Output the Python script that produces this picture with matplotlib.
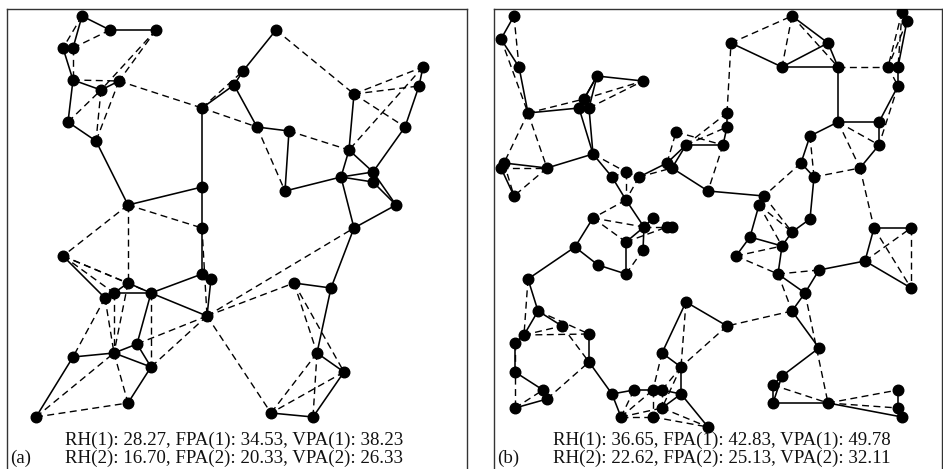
import matplotlib
matplotlib.use("Agg")
import matplotlib.pyplot as plt

# ---- panel (a): node positions (pixel units, y down) ----
a_x = [82, 110, 156, 63, 73, 73, 101, 119, 68, 96,
       202, 243, 234, 276, 202, 128, 202, 257, 289, 285,
       354, 423, 419, 405, 349, 373, 373, 341, 396, 354,
       63, 128, 114, 105, 151, 202, 211, 207, 137, 114,
       73, 151, 128, 36, 294, 331, 317, 344, 271, 313]
a_y = [16, 30, 30, 48, 48, 80, 90, 81, 122, 141,
       108, 71, 85, 30, 187, 205, 228, 127, 131, 191,
       94, 67, 86, 127, 150, 172, 182, 177, 205, 228,
       256, 283, 293, 298, 293, 274, 279, 316, 344, 353,
       357, 367, 403, 417, 283, 288, 353, 372, 413, 417]

a_solid = [(0, 1), (1, 2), (0, 4), (3, 5), (5, 6), (6, 7), (5, 8), (8, 9),
           (9, 15), (15, 14), (10, 14), (14, 16), (10, 12), (12, 11), (11, 13),
           (12, 17), (17, 18), (18, 19), (19, 27), (20, 24), (21, 22), (22, 23),
           (23, 25), (24, 27), (24, 25), (27, 25), (27, 26), (25, 28), (26, 28),
           (27, 29), (28, 29), (29, 45), (44, 45), (45, 46), (46, 47), (47, 49),
           (48, 49), (30, 33), (31, 34), (33, 32), (32, 34), (31, 32), (34, 35),
           (34, 37), (16, 35), (36, 37), (34, 38), (38, 39), (39, 40), (40, 43),
           (39, 41), (38, 41), (41, 42)]
a_dashed = [(0, 3), (4, 1), (4, 5), (5, 7), (2, 6), (2, 7), (7, 9), (6, 9),
            (8, 6), (7, 10), (10, 17), (10, 11), (13, 20), (20, 21), (20, 22),
            (20, 23), (21, 24), (18, 24), (17, 19), (15, 16), (15, 31), (15, 30),
            (30, 31), (30, 34), (30, 32), (16, 37), (33, 40), (33, 39), (32, 39),
            (31, 39), (34, 41), (37, 38), (37, 41), (37, 48), (37, 44), (37, 29),
            (43, 39), (43, 42), (39, 42), (44, 46), (44, 47), (46, 48), (46, 49),
            (47, 48)]

# ---- panel (b) ----
b_x = [514, 501, 519, 528, 597, 643, 584, 579, 589, 593,
       504, 501, 547, 514, 612, 626, 639, 626, 676, 686,
       667, 672, 708, 593, 653, 644, 667, 672, 792, 731,
       828, 782, 838, 902, 907, 888, 898, 898, 838, 879,
       879, 860, 810, 801, 814, 727, 727, 723, 764, 759,
       810, 792, 750, 874, 911, 575, 626, 643, 598, 626,
       528, 538, 562, 524, 515, 589, 589, 515, 543, 547,
       515, 612, 634, 653, 662, 681, 662, 621, 653, 708,
       686, 662, 681, 782, 736, 778, 819, 865, 911, 805,
       792, 727, 819, 782, 773, 773, 828, 898, 898, 902]
b_y = [16, 39, 67, 113, 76, 81, 99, 108, 108, 154,
       163, 168, 168, 196, 177, 172, 177, 200, 132, 145,
       163, 168, 191, 218, 218, 227, 227, 227, 16, 43,
       43, 67, 67, 12, 21, 67, 67, 86, 122, 122,
       145, 168, 136, 163, 177, 113, 127, 145, 196, 205,
       219, 232, 237, 228, 228, 247, 242, 250, 265, 274,
       279, 311, 326, 335, 343, 334, 362, 372, 390, 399,
       408, 394, 390, 390, 390, 394, 408, 417, 417, 427,
       302, 353, 367, 246, 256, 274, 270, 261, 288, 293,
       311, 326, 348, 376, 385, 403, 403, 390, 408, 417]

b_solid = [(0, 1), (1, 2), (2, 3), (3, 7), (6, 4), (7, 4), (8, 4), (4, 5),
           (7, 9), (8, 9), (10, 12), (11, 13), (12, 9), (9, 14), (14, 17),
           (16, 20), (21, 19), (20, 19), (19, 47), (21, 22), (22, 48), (48, 49),
           (49, 52), (52, 83), (52, 84), (50, 51), (51, 83), (83, 85), (85, 89),
           (86, 89), (86, 87), (87, 53), (87, 88), (53, 54), (89, 90), (90, 92),
           (92, 93), (93, 94), (94, 95), (93, 95), (95, 96), (96, 99), (97, 98),
           (98, 99), (29, 31), (28, 30), (31, 30), (30, 32), (31, 32), (32, 38),
           (34, 36), (36, 37), (37, 39), (38, 39), (39, 40), (40, 41), (38, 42),
           (42, 43), (43, 44), (44, 50), (45, 46), (46, 47), (23, 55), (55, 60),
           (55, 58), (58, 59), (56, 59), (25, 57), (17, 25), (25, 24), (25, 56),
           (60, 61), (61, 63), (61, 62), (63, 64), (64, 67), (65, 66), (67, 68),
           (68, 69), (69, 70), (66, 71), (71, 72), (72, 73), (73, 74), (74, 75),
           (71, 77), (75, 79), (82, 75), (76, 75), (81, 80), (81, 82), (80, 91)]
b_dashed = [(0, 2), (1, 3), (3, 6), (6, 5), (8, 5), (3, 10), (3, 12), (11, 12),
            (10, 13), (12, 13), (9, 15), (14, 15), (15, 16), (15, 17), (16, 17),
            (16, 21), (20, 18), (18, 47), (19, 45), (19, 46), (47, 22), (17, 23),
            (23, 25), (23, 56), (25, 26), (24, 27), (29, 28), (28, 31), (28, 32),
            (32, 35), (33, 35), (34, 35), (33, 36), (35, 37), (37, 40), (38, 40),
            (38, 41), (42, 44), (43, 48), (44, 41), (41, 53), (45, 29), (48, 51),
            (49, 51), (49, 83), (84, 83), (84, 85), (85, 86), (85, 90), (89, 96),
            (90, 91), (91, 82), (53, 88), (54, 88), (87, 54), (94, 96), (96, 97),
            (96, 98), (59, 57), (56, 26), (60, 63), (61, 65), (63, 62), (63, 65),
            (64, 70), (62, 66), (70, 68), (69, 66), (77, 78), (77, 72), (77, 73),
            (77, 76), (73, 78), (74, 76), (81, 73), (80, 82), (82, 74), (82, 76),
            (78, 79), (76, 79)]

a_text = ["RH(1): 28.27, FPA(1): 34.53, VPA(1): 38.23",
          "RH(2): 16.70, FPA(2): 20.33, VPA(2): 26.33"]
b_text = ["RH(1): 36.65, FPA(1): 42.83, VPA(1): 49.78",
          "RH(2): 22.62, FPA(2): 25.13, VPA(2): 32.11"]

W, H = 943, 469
fig = plt.figure(figsize=(W / 100, H / 100), dpi=100)


def panel(left, right, xs, ys, solid, dashed, lines, tag, tx):
    ax = fig.add_axes([left / W, -2 / H, (right - left) / W, (H - 9 + 2) / H])
    ax.set_xlim(left, right)
    ax.set_ylim(H + 2, 9)
    for i, j in solid:
        ax.plot([xs[i], xs[j]], [ys[i], ys[j]], color="black", lw=1.15, zorder=2)
    for i, j in dashed:
        ax.plot([xs[i], xs[j]], [ys[i], ys[j]], color="black", lw=1.0,
                ls=(0, (5, 3.2)), zorder=1)
    ax.plot(xs, ys, "o", color="black", ms=7.6, zorder=3)
    fs = 13.6
    ax.text(tx, 440, lines[0], fontsize=fs, family="Liberation Serif", va="center",
            color="#111111")
    ax.text(tx, 458.5, lines[1], fontsize=fs, family="Liberation Serif", va="center",
            color="#111111")
    ax.text(left + 3, 458.5, tag, fontsize=fs, family="Liberation Serif", va="center",
            color="#111111")
    ax.set_xticks([])
    ax.set_yticks([])
    for s in ax.spines.values():
        s.set_color("#333333")
        s.set_linewidth(1.0)
    return ax


panel(7, 467, a_x, a_y, a_solid, a_dashed, a_text, "(a)", 65)
panel(494, 942, b_x, b_y, b_solid, b_dashed, b_text, "(b)", 553)

fig.savefig("out.png", dpi=100, facecolor="white")
